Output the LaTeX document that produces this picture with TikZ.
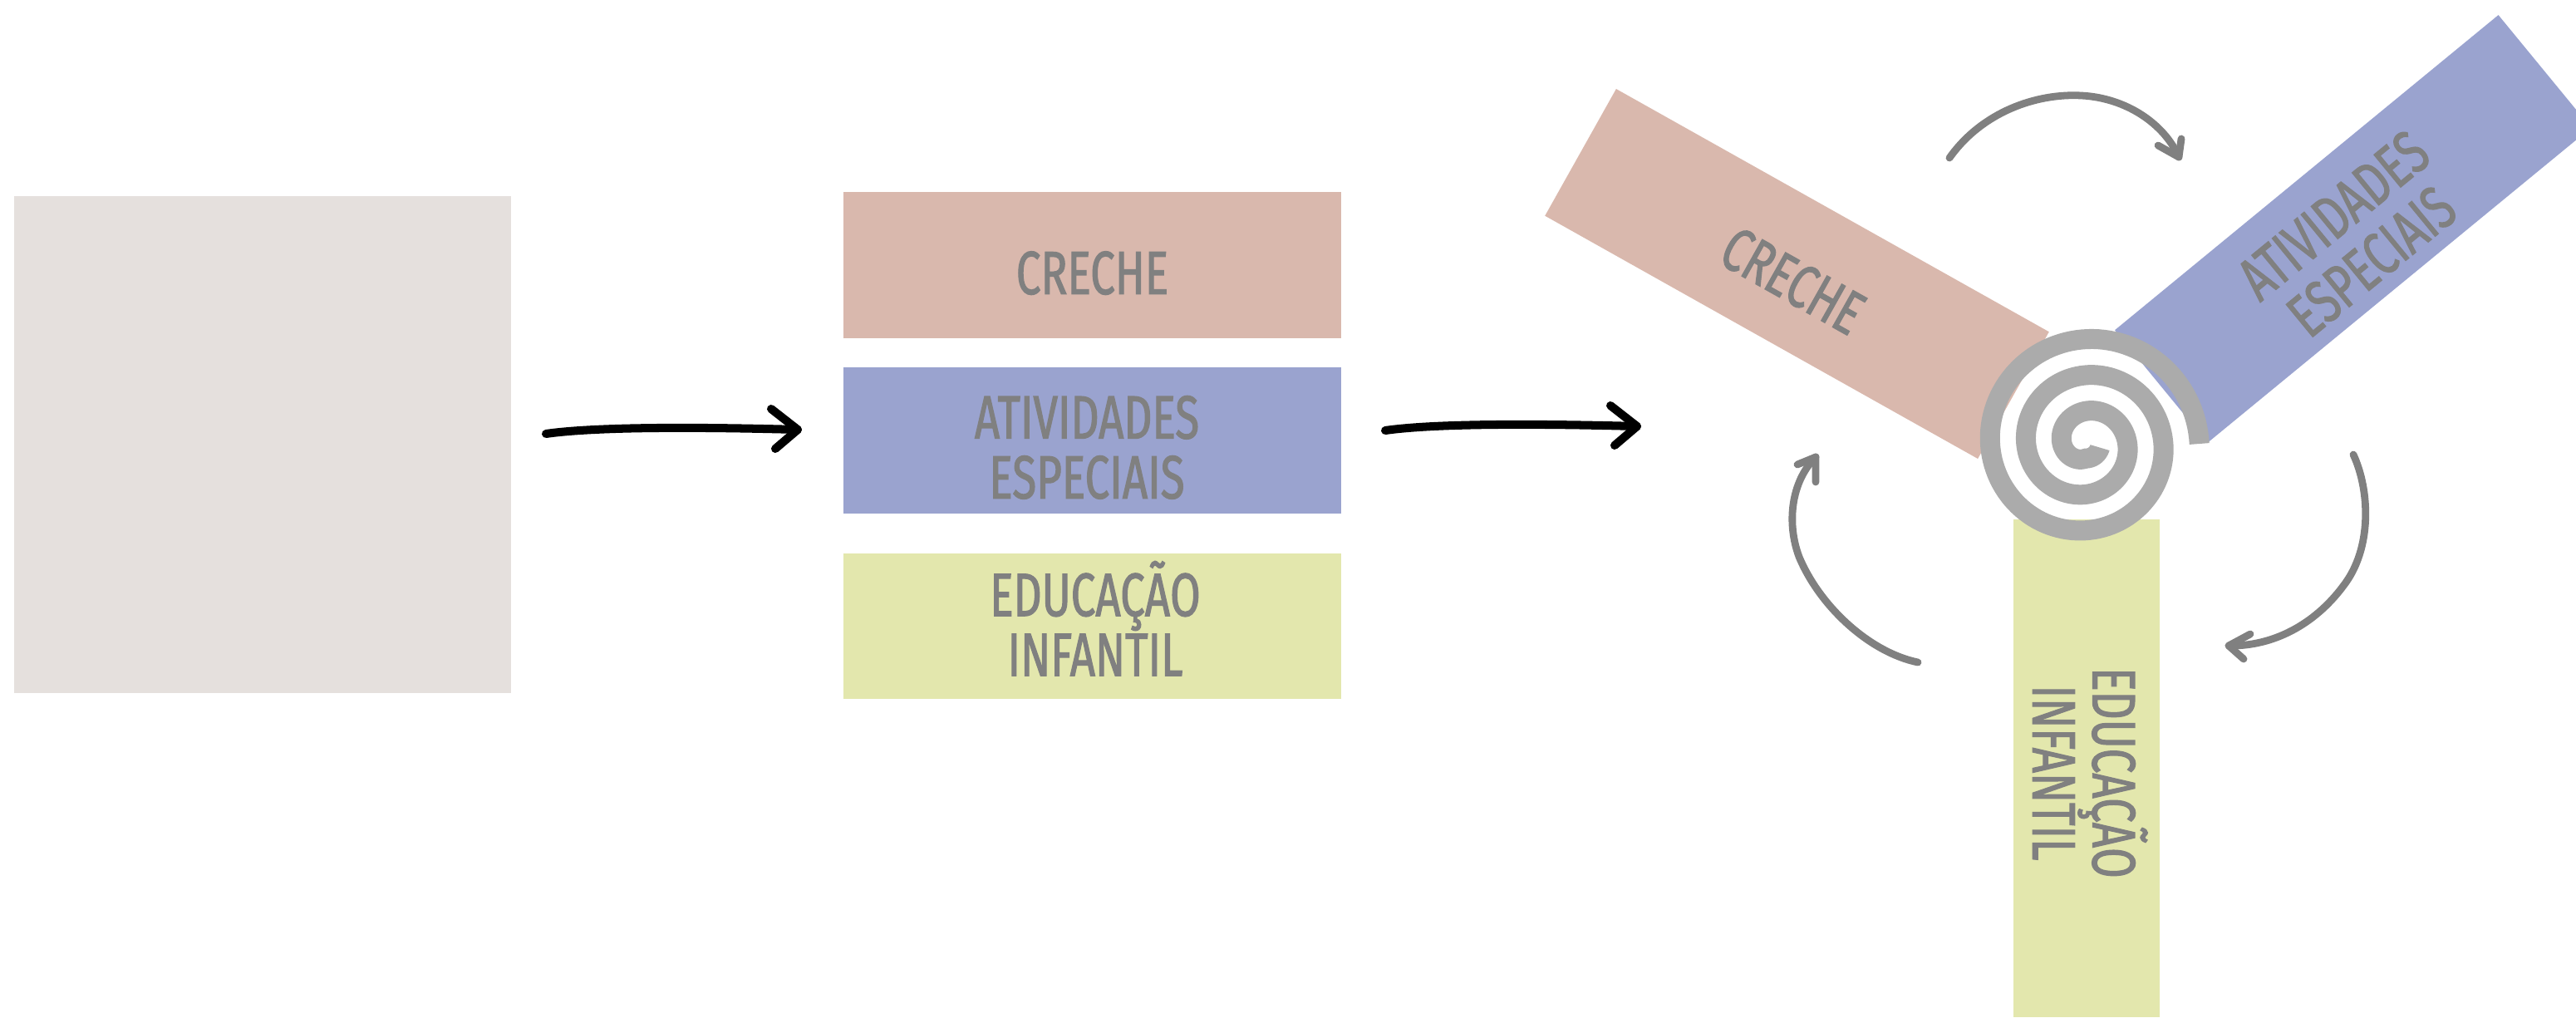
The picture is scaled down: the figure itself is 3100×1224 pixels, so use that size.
\documentclass[tikz,border=0pt]{standalone}
\usepackage{fontspec}
\newfontfamily\osw{Fira Sans}[FakeStretch=0.72,FakeBold=1.5]
\definecolor{sqgrey}{HTML}{E5E0DD}
\definecolor{pinkc}{HTML}{D9B8AD}
\definecolor{bluec}{HTML}{9AA3CF}
\definecolor{greenc}{HTML}{E3E7AD}
\definecolor{spiralc}{HTML}{ABABAB}
\definecolor{txtc}{HTML}{808080}
\begin{document}
\begin{tikzpicture}[x=0.01cm,y=-0.01cm,
  box/.style={draw=none, inner sep=0pt, minimum width=5.98cm, minimum height=1.76cm},
  lbl/.style={inner sep=0pt, text=txtc, align=center, font=\osw\fontsize{20.9}{20.5}\selectfont},
  blk/.style={draw=black, line width=2.85pt, line cap=round, line join=round},
  gry/.style={draw=txtc, line width=2.5pt, line cap=round, line join=round},
  spiralline/.style={draw=spiralc, line width=6.83pt}
]
\useasboundingbox (0,0) rectangle (3100,1224);

% left grey square
\node[box, fill=sqgrey, minimum height=5.98cm] (sq) at (316,535) {};

% middle column
\node[box, fill=pinkc] (mcr) at (1314.5,319) {};
\node[box, fill=bluec] (mat) at (1314.5,530) {};
\node[box, fill=greenc, minimum height=1.75cm] (med) at (1314.5,753.5) {};
\node[lbl] (tmcr) at (1314.5,328.6) {CRECHE};
\node[lbl] (tmat) at (1308,538.4) {ATIVIDADES\\ESPECIAIS};
\node[lbl] (tmed) at (1318,751.5) {EDUCAÇ\smash{Ã}O\\INFANTIL};

% pinwheel blades
\node[box, fill=pinkc, minimum width=5.97cm, minimum height=1.75cm, rotate=-29.3] (bcr) at (2162.5,329.5) {};
\node[box, fill=bluec, minimum width=5.97cm, minimum height=1.755cm, rotate=39.4] (bat) at (2831.5,275.5) {};
\node[box, fill=greenc, minimum width=5.99cm, minimum height=1.76cm, rotate=-90] (bed) at (2511,924.5) {};

% spiral hub
\draw[spiralline] plot[domain=0:2.96, samples=360, variable=\t]
  ({2510 + (136.7-43.3*min(\t,2.75))*cos(360*\t)}, {534 - (136.7-43.3*min(\t,2.75))*sin(360*\t)});

% blade labels
\node[lbl, rotate=-29.3] (tbcr) at (2157.8,337.9) {CRECHE};
\node[lbl, rotate=39.4] (tbat) at (2831,286.8) {ATIVIDADES\\ESPECIAIS};
\node[lbl, rotate=-90] (tbed) at (2508,930) {EDUCAÇ\smash{Ã}O\\INFANTIL};

% black arrows
\coordinate (a1s) at (657,522);
\coordinate (a1e) at (960,517);
\coordinate (a1u) at (928,492);
\coordinate (a1d) at (933,540);
\draw[blk] (a1s) .. controls (720,513) and (850,514) .. (a1e);
\draw[blk] (a1u) -- (a1e) -- (a1d);

\coordinate (a2s) at (1667,518);
\coordinate (a2e) at (1970,513);
\coordinate (a2u) at (1938,488);
\coordinate (a2d) at (1943,536);
\draw[blk] (a2s) .. controls (1730,509) and (1860,510) .. (a2e);
\draw[blk] (a2u) -- (a2e) -- (a2d);

% grey rotation arrows
\coordinate (g1s) at (2346,190);
\coordinate (g1e) at (2622,189);
\coordinate (g1u) at (2597,175);
\coordinate (g1d) at (2625,167);
\draw[gry] (g1s) .. controls (2385,135) and (2450,112) .. (2505,115) .. controls (2560,118) and (2605,150) .. (g1e);
\draw[gry] (g1u) -- (g1e) -- (g1d);

\coordinate (g2s) at (2832,547);
\coordinate (g2e) at (2682,777);
\coordinate (g2u) at (2708,763);
\coordinate (g2d) at (2700,793);
\draw[gry] (g2s) .. controls (2852,590) and (2855,660) .. (2820,705) .. controls (2785,752) and (2735,778) .. (g2e);
\draw[gry] (g2u) -- (g2e) -- (g2d);

\coordinate (g3s) at (2308,797);
\coordinate (g3e) at (2185,550);
\coordinate (g3u) at (2163,559);
\coordinate (g3d) at (2185,580);
\draw[gry] (g3s) .. controls (2250,785) and (2190,730) .. (2165,670) .. controls (2150,630) and (2155,580) .. (g3e);
\draw[gry] (g3u) -- (g3e) -- (g3d);
\end{tikzpicture}
\end{document}
